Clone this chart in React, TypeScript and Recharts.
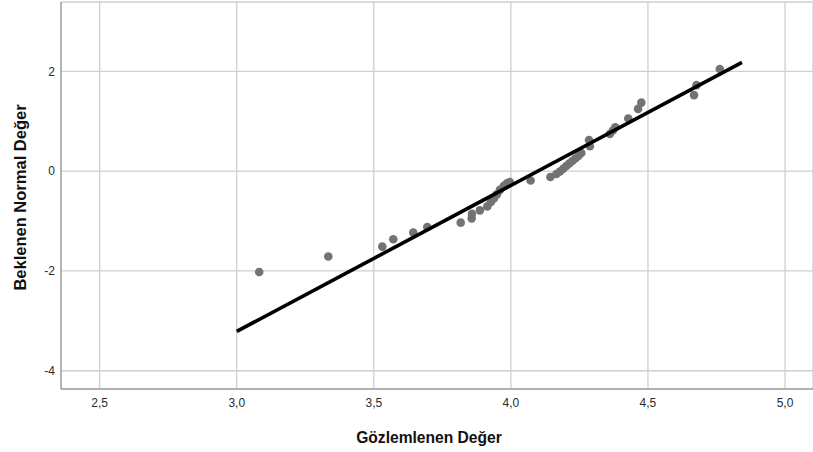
import { ScatterChart, Scatter, XAxis, YAxis, CartesianGrid } from "recharts";

const observed = [
  3.082, 3.334, 3.531, 3.571, 3.644, 3.695, 3.817, 3.857, 3.858, 3.887,
  3.914, 3.927, 3.938, 3.949, 3.96, 3.974, 3.985, 3.996, 4.072, 4.144,
  4.166, 4.179, 4.191, 4.202, 4.213, 4.224, 4.235, 4.246, 4.257, 4.288,
  4.285, 4.361, 4.372, 4.381, 4.428, 4.464, 4.476, 4.668, 4.677, 4.762,
];
const expected = [
  -2.02, -1.712, -1.512, -1.366, -1.232, -1.12, -1.032, -0.946, -0.856, -0.786,
  -0.706, -0.616, -0.546, -0.466, -0.376, -0.296, -0.246, -0.22, -0.186, -0.116,
  -0.056, -0.006, 0.048, 0.104, 0.154, 0.204, 0.254, 0.304, 0.364, 0.5,
  0.624, 0.744, 0.814, 0.88, 1.054, 1.248, 1.374, 1.524, 1.724, 2.048,
];

// reference line end points
const lineX = [3.0, 4.843];
const lineY = [-3.212, 2.18];

const xTicks = [2.5, 3.0, 3.5, 4.0, 4.5, 5.0];
const yTicks = [-4, -2, 0, 2];

const points = observed.map((x, i) => ({ x, y: expected[i] }));
const refLine = lineX.map((x, i) => ({ x, y: lineY[i] }));

const font = "Liberation Sans, Arial, sans-serif";
const tickStyle = { fill: "#2b2b2b", fontSize: 12, fontFamily: font };
const labelStyle = { fill: "#111", fontSize: 16, fontWeight: "bold", fontFamily: font };

const dot = (p: any) => <circle cx={p.cx} cy={p.cy} r={4.3} fill="#737373" />;

const YLabel = ({ viewBox }: any) => {
  const cy = viewBox.y + viewBox.height / 2 + 2;
  return (
    <text x={20} y={cy} transform={`rotate(-90 20 ${cy})`} textAnchor="middle" dominantBaseline="central" style={{ ...labelStyle, fontSize: 16.5 }}>
      Beklenen Normal Değer
    </text>
  );
};

const XLabel = ({ viewBox }: any) => {
  const cx = viewBox.x + viewBox.width / 2 - 8;
  return (
    <text x={cx} y={437} textAnchor="middle" dominantBaseline="central" style={{ ...labelStyle, fontSize: 15.6 }}>
      Gözlemlenen Değer
    </text>
  );
};

export default function App() {
  return (
    <div style={{ position: "absolute", left: 0, top: 0, background: "#fff" }}>
      <ScatterChart width={813} height={452} margin={{ top: 2, right: 0, bottom: 0, left: 0 }}>
        <CartesianGrid stroke="#cfcfcf" strokeWidth={1.3} />
        <XAxis
          type="number"
          dataKey="x"
          domain={[2.359, 5.102]}
          ticks={xTicks}
          allowDataOverflow
          height={63}
          stroke="#888"
          tickLine={false}
          tick={tickStyle}
          tickMargin={3}
          tickFormatter={(v: number) => v.toFixed(1).replace(".", ",")}
          label={<XLabel />}
        />
        <YAxis
          type="number"
          dataKey="y"
          domain={[-4.366, 3.39]}
          ticks={yTicks}
          allowDataOverflow
          width={61}
          stroke="#888"
          tickLine={false}
          tick={tickStyle}
          tickMargin={0}
          label={<YLabel />}
        />
        <Scatter data={points} shape={dot} isAnimationActive={false} />
        <Scatter
          data={refLine}
          line={{ stroke: "#000", strokeWidth: 3.6 }}
          shape={() => <g />}
          isAnimationActive={false}
        />
      </ScatterChart>
    </div>
  );
}
